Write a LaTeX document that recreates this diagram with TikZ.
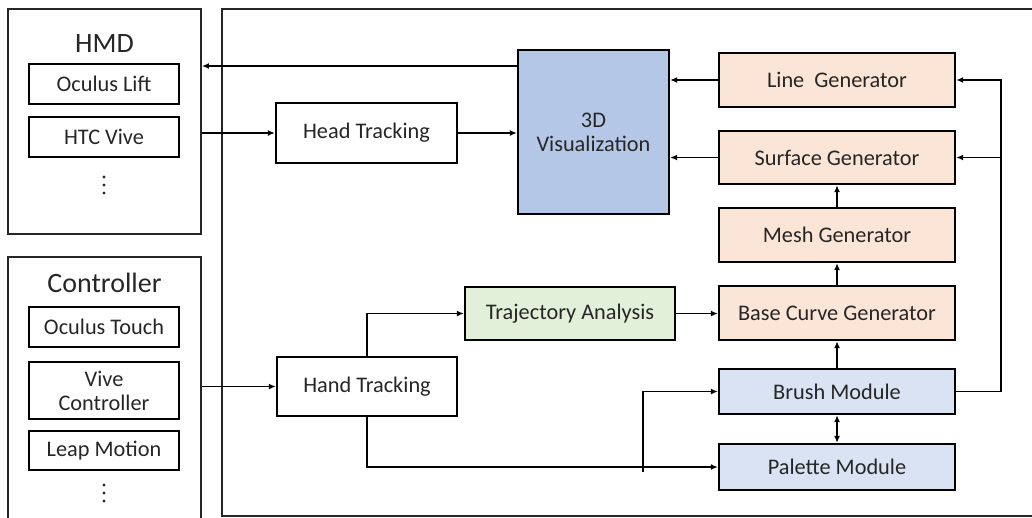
\documentclass[tikz,border=0pt]{standalone}
\usepackage{fontspec}
\setmainfont{Carlito}
\usetikzlibrary{arrows.meta,calc}
\definecolor{vizblue}{HTML}{B4C7E7}
\definecolor{genorange}{HTML}{FBE5D6}
\definecolor{modblue}{HTML}{DAE3F3}
\definecolor{trajgreen}{HTML}{E2F0D9}
\definecolor{txt}{HTML}{262626}
\tikzset{
  box/.style={draw=black, line width=2.3pt, rectangle, inner sep=0pt, text=txt,
     font=\fontsize{22.3}{25}\selectfont, align=center},
  group/.style={draw=black!85, line width=1.9pt, rectangle, inner sep=0pt},
  title/.style={text=txt, font=\fontsize{28}{32}\selectfont, inner sep=0pt},
  arr/.style={line width=1.7pt, -{Latex[length=7pt,width=6pt]}},
  dualarr/.style={line width=1.7pt, {Latex[length=7pt,width=6pt]}-{Latex[length=7pt,width=6pt]}},
  dot/.style={circle, fill=txt, inner sep=0pt, minimum size=3.4pt}
}
\begin{document}
\begin{tikzpicture}[x=1pt,y=-1pt]
\useasboundingbox (0,0) rectangle (1032,517);
% group frames
\node[group, minimum width=193pt, minimum height=225pt] (hmd) at (104.5,121.5) {};
\node[group, minimum width=193pt, minimum height=270pt] (ctrl) at (104.5,392) {};
\node[group, minimum width=830pt, minimum height=507pt] (main) at (637,262.5) {};
% HMD
\node[title] (hmdt) at (104.5,44) {HMD};
\node[box, minimum width=150pt, minimum height=40pt] (oculus) at (104,84) {Oculus Lift};
\node[box, minimum width=150pt, minimum height=40pt] (htc) at (104,137) {HTC Vive};
\node[dot] (hd1) at (104,177) {};
\node[dot] (hd2) at (104,185) {};
\node[dot] (hd3) at (104,193) {};
% Controller
\node[title] (ctrlt) at (104.5,283) {Controller};
\node[box, minimum width=150pt, minimum height=40pt] (otouch) at (104,327) {Oculus Touch};
\node[box, minimum width=150pt, minimum height=57pt] (vive) at (104,390.5) {Vive\\[-1pt]Controller};
\node[box, minimum width=150pt, minimum height=39pt] (leap) at (104,450.5) {Leap Motion};
\node[dot] (cd1) at (104,485) {};
\node[dot] (cd2) at (104,493) {};
\node[dot] (cd3) at (104,501) {};
% main blocks
\node[box, minimum width=181pt, minimum height=60pt] (head) at (366.5,133) {Head Tracking};
\node[box, minimum width=180pt, minimum height=59pt] (hand) at (367,386.5) {Hand Tracking};
\node[box, fill=trajgreen, minimum width=210pt, minimum height=53pt] (traj) at (570,313.5) {Trajectory Analysis};
\node[box, fill=vizblue, minimum width=151pt, minimum height=164pt] (viz) at (593.5,132) {3D\\[-1pt]Visualization};
\node[box, fill=genorange, minimum width=236pt, minimum height=54pt] (lineg) at (837,80) {Line\ \ Generator};
\node[box, fill=genorange, minimum width=236pt, minimum height=53pt] (surf) at (837,157.5) {Surface Generator};
\node[box, fill=genorange, minimum width=236pt, minimum height=54pt] (mesh) at (837,235) {Mesh Generator};
\node[box, fill=genorange, minimum width=236pt, minimum height=54pt] (base) at (837,313) {Base Curve Generator};
\node[box, fill=modblue, minimum width=236pt, minimum height=45pt] (brush) at (837,391.5) {Brush Module};
\node[box, fill=modblue, minimum width=236pt, minimum height=46pt] (palette) at (837,467) {Palette Module};
% connectors
\draw[arr] (viz.west |- 0,66) -- (hmd.east |- 0,66);
\draw[arr] (hmd.east |- head.west) -- (head.west);
\draw[arr] (head.east) -- (head.east -| viz.west);
\draw[arr] (lineg.west) -- (lineg.west -| viz.east);
\draw[arr] (surf.west) -- (surf.west -| viz.east);
\draw[arr] (ctrl.east |- hand.west) -- (hand.west);
\draw[arr] (hand.north) |- (traj.west);
\draw[arr] (hand.south) |- (palette.west);
\draw[arr] (traj.east) -- (traj.east -| base.west);
\draw[arr] (brush.north) -- (base.south);
\draw[arr] (base.north) -- (mesh.south);
\draw[arr] (mesh.north) -- (surf.south);
\draw[dualarr] (brush.south) -- (palette.north);
\coordinate (bin) at (643,472);
\draw[arr] (bin) |- (brush.west);
\coordinate (rx) at (1001,157.5);
\draw[arr] (brush.east) -| (rx) |- (lineg.east);
\draw[arr] (rx |- surf.east) -- (surf.east);
\end{tikzpicture}
\end{document}
